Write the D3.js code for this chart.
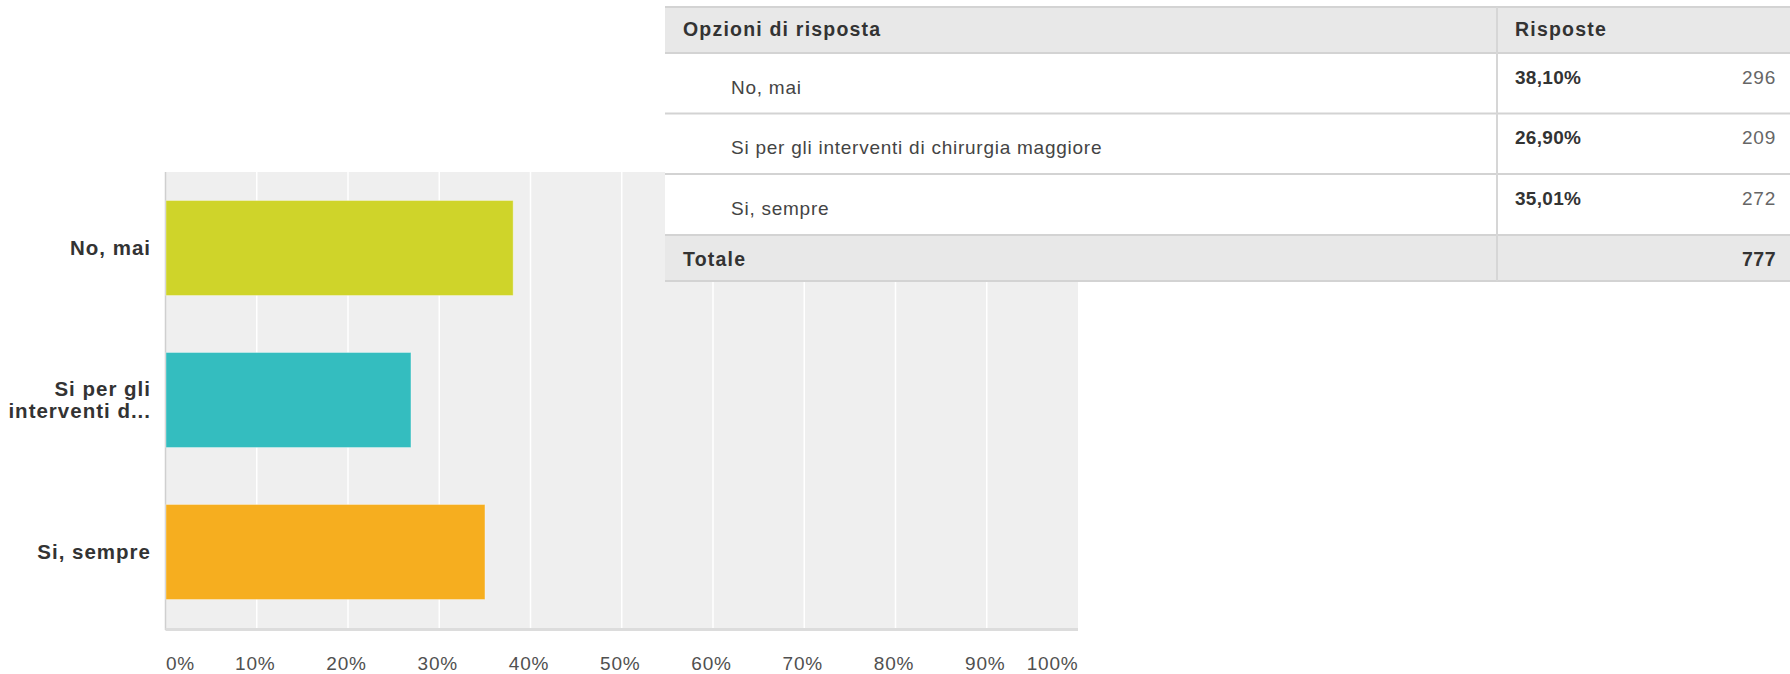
<!DOCTYPE html>
<html>
<head>
<meta charset="utf-8">
<script src="https://cdn.jsdelivr.net/npm/d3@7"></script>
<style>
  html, body { margin: 0; padding: 0; background: #ffffff; }
  svg { display: block; font-family: "Liberation Sans", Arial, sans-serif; }
</style>
</head>
<body>
<svg id="chart" width="1790" height="674"></svg>
<script>
// ---- data ----
const categories = ["No, mai", "Si per gli interventi di chirurgia maggiore", "Si, sempre"];
const chartLabels = [["No, mai"], ["Si per gli", "interventi d..."], ["Si, sempre"]];
const percentages = [38.10, 26.90, 35.01];
const percentLabels = ["38,10%", "26,90%", "35,01%"];
const counts = [296, 209, 272];
const totalLabel = "Totale";
const totalCount = 777;
const tableHeaders = ["Opzioni di risposta", "Risposte"];
const tickValues = [0, 10, 20, 30, 40, 50, 60, 70, 80, 90, 100];
const barColors = ["#cfd42a", "#34bdbf", "#f6ae1f"];

// ---- layout ----
const svg = d3.select("#chart");
const plot = { left: 165.5, right: 1078, top: 172, bottom: 628 };

const x = d3.scaleLinear().domain([0, 100]).range([plot.left, plot.right]);
const y = d3.scaleBand().domain(categories).range([plot.top, plot.bottom])
  .paddingInner(0.375).paddingOuter(0.1875);

// plot background
svg.append("rect")
  .attr("x", plot.left).attr("y", plot.top)
  .attr("width", plot.right - plot.left).attr("height", plot.bottom - plot.top)
  .attr("fill", "#efefef");

// grid lines
svg.append("g").selectAll("line")
  .data(tickValues.filter(d => d > 0 && d < 100))
  .join("line")
  .attr("x1", d => x(d)).attr("x2", d => x(d))
  .attr("y1", plot.top).attr("y2", plot.bottom)
  .attr("stroke", "#ffffff").attr("stroke-width", 1.5);

// left border and bottom axis line
svg.append("line")
  .attr("x1", plot.left).attr("x2", plot.left)
  .attr("y1", plot.top).attr("y2", plot.bottom + 2)
  .attr("stroke", "#cfcfcf").attr("stroke-width", 1.5);
svg.append("line")
  .attr("x1", plot.left).attr("x2", plot.right)
  .attr("y1", plot.bottom + 1.5).attr("y2", plot.bottom + 1.5)
  .attr("stroke", "#dcdcdc").attr("stroke-width", 3);

// bars
svg.append("g").selectAll("rect")
  .data(categories)
  .join("rect")
  .attr("x", plot.left + 0.5)
  .attr("y", d => y(d))
  .attr("width", (d, i) => x(percentages[i]) - plot.left - 0.5)
  .attr("height", y.bandwidth())
  .attr("fill", (d, i) => barColors[i])
  .attr("stroke", "rgba(255,255,255,0.35)")
  .attr("stroke-width", 1);

// category labels
const lab = svg.append("g").selectAll("text")
  .data(categories)
  .join("text")
  .attr("text-anchor", "end")
  .attr("font-weight", "bold")
  .attr("font-size", 20.5)
  .attr("letter-spacing", 1)
  .attr("fill", "#333333");
lab.each(function(d, i) {
  const lines = chartLabels[i];
  const cy = y(d) + y.bandwidth() / 2;
  const lh = 22;
  const t = d3.select(this);
  lines.forEach((ln, k) => {
    t.append("tspan")
      .attr("x", 151)
      .attr("y", cy + (k - (lines.length - 1) / 2) * lh)
      .attr("dy", "0.35em")
      .text(ln);
  });
});

// x axis tick labels
const xAxis = d3.axisBottom(x)
  .tickValues(tickValues)
  .tickFormat(d => d + "%")
  .tickSize(0)
  .tickPadding(29);
const ax = svg.append("g")
  .attr("transform", `translate(0,${plot.bottom})`)
  .call(xAxis);
ax.select(".domain").remove();
ax.selectAll("text")
  .attr("font-family", "\"Liberation Sans\", Arial, sans-serif")
  .attr("font-size", 19)
  .attr("letter-spacing", 0.8)
  .attr("fill", "#505050")
  .attr("text-anchor", (d, i) => i === 0 ? "start" : (i === tickValues.length - 1 ? "end" : "middle"))
  .attr("dx", (d, i) => (i === 0 || i === tickValues.length - 1) ? 0 : -2);

// ---- table (overlays the chart) ----
const table = { left: 665, right: 1790, divider: 1497 };
const rowBounds = [7, 53, 113.5, 174, 235, 281];
const rowFills = ["#e8e8e8", "#ffffff", "#ffffff", "#ffffff", "#e8e8e8"];
const tg = svg.append("g");

tg.selectAll("rect.row")
  .data(rowFills)
  .join("rect")
  .attr("class", "row")
  .attr("x", table.left).attr("width", table.right - table.left)
  .attr("y", (d, i) => rowBounds[i])
  .attr("height", (d, i) => rowBounds[i + 1] - rowBounds[i])
  .attr("fill", d => d);

tg.selectAll("line.h")
  .data(rowBounds)
  .join("line")
  .attr("class", "h")
  .attr("x1", table.left).attr("x2", table.right)
  .attr("y1", d => d).attr("y2", d => d)
  .attr("stroke", "#d3d3d3").attr("stroke-width", 2);

tg.append("line")
  .attr("x1", table.divider).attr("x2", table.divider)
  .attr("y1", rowBounds[0]).attr("y2", rowBounds[rowBounds.length - 1])
  .attr("stroke", "#d6d6d6").attr("stroke-width", 2);

const tFont = { size: 19, ls: 0.75, boldLs: 1.2 };
// header
tg.selectAll("text.hdr")
  .data(tableHeaders)
  .join("text")
  .attr("class", "hdr")
  .attr("x", (d, i) => i === 0 ? 683 : 1515)
  .attr("y", rowBounds[0] + 28.5)
  .attr("font-weight", "bold")
  .attr("font-size", 19.5)
  .attr("letter-spacing", tFont.boldLs)
  .attr("fill", "#333333")
  .text(d => d);

// rows
const rows = tg.selectAll("g.r")
  .data(categories)
  .join("g")
  .attr("class", "r")
  .attr("transform", (d, i) => `translate(0,${rowBounds[i + 1]})`);
rows.append("text")
  .attr("x", 731).attr("y", 40.5)
  .attr("font-size", tFont.size).attr("letter-spacing", tFont.ls)
  .attr("fill", "#444444")
  .text(d => d);
rows.append("text")
  .attr("x", 1515).attr("y", 30.5)
  .attr("font-size", tFont.size).attr("letter-spacing", 0.3)
  .attr("font-weight", "bold")
  .attr("fill", "#333333")
  .text((d, i) => percentLabels[i]);
rows.append("text")
  .attr("x", 1776).attr("y", 30.5)
  .attr("text-anchor", "end")
  .attr("font-size", tFont.size).attr("letter-spacing", tFont.ls)
  .attr("fill", "#666666")
  .text((d, i) => counts[i]);

// total row
tg.append("text")
  .attr("x", 683).attr("y", rowBounds[4] + 31)
  .attr("font-weight", "bold")
  .attr("font-size", 19.5).attr("letter-spacing", tFont.boldLs)
  .attr("fill", "#333333")
  .text(totalLabel);
tg.append("text")
  .attr("x", 1776).attr("y", rowBounds[4] + 31)
  .attr("text-anchor", "end")
  .attr("font-weight", "bold")
  .attr("font-size", 19.5).attr("letter-spacing", 0.5)
  .attr("fill", "#333333")
  .text(totalCount);
</script>
</body>
</html>
